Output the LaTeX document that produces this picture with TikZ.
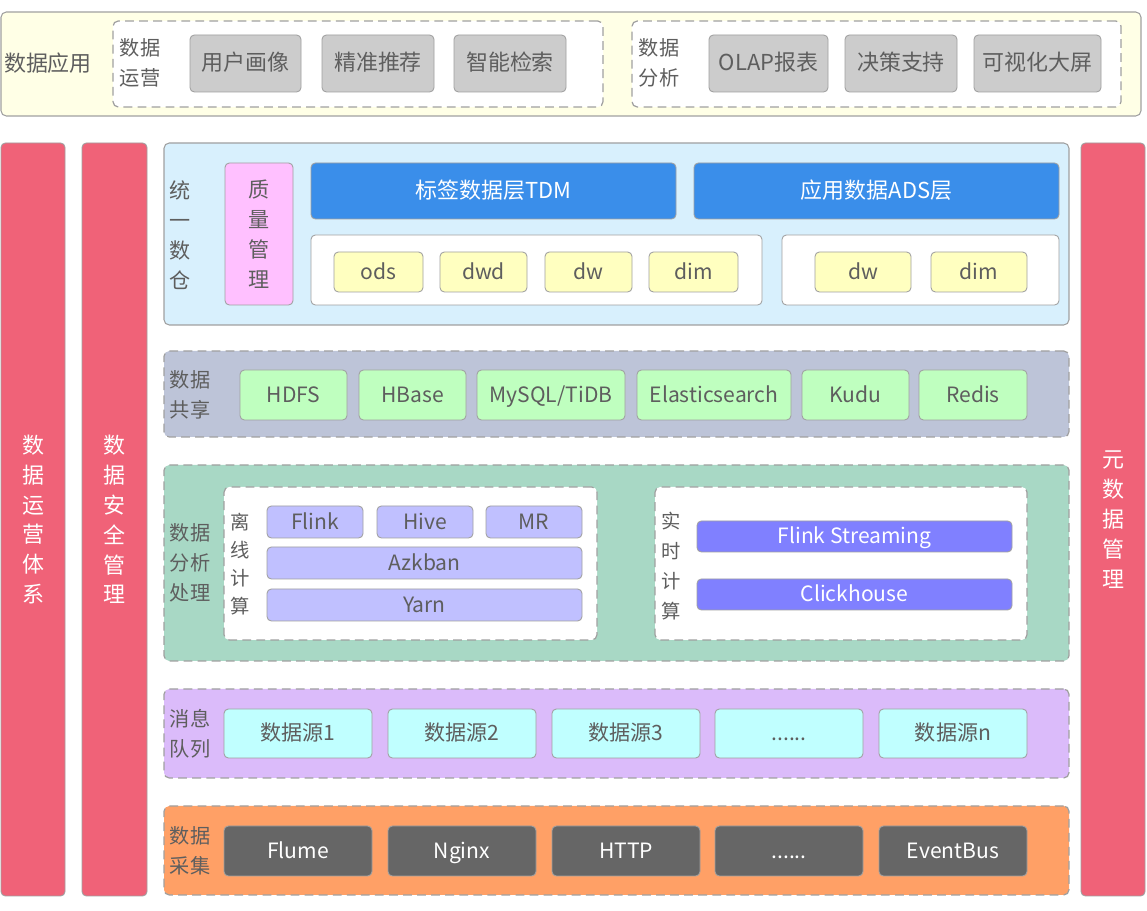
\documentclass[tikz,border=0pt]{standalone}
\usepackage{fontspec}
\setmainfont{Noto Sans CJK SC}
\usetikzlibrary{fit}

\definecolor{appbg}{HTML}{FFFFE6}
\definecolor{cellgray}{HTML}{CCCCCC}
\definecolor{barred}{HTML}{F06278}
\definecolor{dwbg}{HTML}{D8F0FD}
\definecolor{tdmblue}{HTML}{3A8EEA}
\definecolor{qapink}{HTML}{FFC0FF}
\definecolor{layeryel}{HTML}{FFFFC0}
\definecolor{sharebg}{HTML}{BDC4D8}
\definecolor{storegreen}{HTML}{BFFFBF}
\definecolor{calcbg}{HTML}{A8D8C5}
\definecolor{jobpurple}{HTML}{C0C0FF}
\definecolor{streampurple}{HTML}{8080FF}
\definecolor{mqbg}{HTML}{DBBBFA}
\definecolor{srccyan}{HTML}{C0FFFF}
\definecolor{collectbg}{HTML}{FFA066}
\definecolor{toolgray}{HTML}{666666}
\definecolor{txt}{HTML}{5E5E5E}
\definecolor{edge}{HTML}{A0A0A0}

\begin{document}
\begin{tikzpicture}[x=0.02cm,y=-0.02cm,
  wh/.style 2 args={minimum width=#1*0.02cm,minimum height=#2*0.02cm},
  cell/.style={draw=edge,line width=0.5pt,rounded corners=2.5pt,inner sep=0pt,text=txt,
    text height=0.95em,text depth=0.1em,font=\fontsize{12}{15}\selectfont},
  band/.style={draw=edge,line width=0.7pt,dash pattern=on 5pt off 3pt,rounded corners=3pt,inner sep=0pt},
  solidband/.style={draw=edge,line width=0.6pt,rounded corners=3pt,inner sep=0pt},
  tag/.style={text=txt,align=center,inner sep=0pt,font=\fontsize{11.5}{17}\selectfont},
  bar/.style={fill=barred,draw=edge,line width=0.5pt,rounded corners=2.5pt,inner sep=0pt,
    text=white,align=center,font=\fontsize{12.5}{17}\selectfont}]
\useasboundingbox (0,0) rectangle (1147,911);

% application layer
\node[solidband,fill=appbg,fit={(1,12) (1141,116)}] (app) {};
\node[tag,font=\fontsize{12.5}{17}\selectfont] (apptag) at (48,63) {数据应用};
\node[band,fill=white,fit={(113,21) (603,107)}] (ops) {};
\node[tag] (opstag) at (140,63) {数据\\运营};
\node[cell,fill=cellgray,wh={111}{57},font=\fontsize{12.5}{15}\selectfont] (portrait) at (245.5,63.5) {用户画像};
\node[cell,fill=cellgray,wh={112}{57},font=\fontsize{12.5}{15}\selectfont] (recommend) at (378,63.5) {精准推荐};
\node[cell,fill=cellgray,wh={112}{57},font=\fontsize{12.5}{15}\selectfont] (search) at (510,63.5) {智能检索};
\node[band,fill=white,fit={(632,21) (1121,107)}] (ana) {};
\node[tag] (anatag) at (659,63) {数据\\分析};
\node[cell,fill=cellgray,wh={119}{57},font=\fontsize{12.5}{15}\selectfont] (olap) at (768.5,63.5) {OLAP报表};
\node[cell,fill=cellgray,wh={112}{57},font=\fontsize{12.5}{15}\selectfont] (decision) at (901,63.5) {决策支持};
\node[cell,fill=cellgray,wh={127}{57},font=\fontsize{12.5}{15}\selectfont] (screen) at (1037.5,63.5) {可视化大屏};

% side bars
\node[bar,wh={64}{753}] (opsbar) at (33,519.5) {数\\据\\运\\营\\体\\系};
\node[bar,wh={65}{753}] (secbar) at (114.5,519.5) {数\\据\\安\\全\\管\\理};
\node[bar,wh={64}{753}] (metabar) at (1113,519.5) {元\\数\\据\\管\\理};

% unified warehouse
\node[solidband,fill=dwbg,fit={(164,143) (1069,325)}] (dw) {};
\node[tag,font=\fontsize{12}{17}\selectfont] (dwtag) at (180,235) {统\\一\\数\\仓};
\node[cell,fill=qapink,wh={68}{142},align=center,text height=,text depth=,font=\fontsize{12}{17}\selectfont] (quality) at (259,234) {质\\量\\管\\理};
\node[cell,fill=tdmblue,text=white,wh={365}{56},font=\fontsize{12.5}{15}\selectfont] (tdm) at (493.5,191) {标签数据层TDM};
\node[cell,fill=tdmblue,text=white,wh={365}{56},font=\fontsize{12.5}{15}\selectfont] (ads) at (876.5,191) {应用数据ADS层};
\node[cell,fill=white,fit={(311,235) (762,305)}] (tdmset) {};
\node[cell,fill=layeryel,wh={89}{40}] (ods) at (378.5,272) {ods};
\node[cell,fill=layeryel,wh={87}{40}] (dwd) at (483.5,272) {dwd};
\node[cell,fill=layeryel,wh={87}{40}] (dwa) at (588.5,272) {dw};
\node[cell,fill=layeryel,wh={89}{40}] (dima) at (693.5,272) {dim};
\node[cell,fill=white,fit={(782,235) (1059,305)}] (adsset) {};
\node[cell,fill=layeryel,wh={96}{40}] (dwb) at (863,272) {dw};
\node[cell,fill=layeryel,wh={96}{40}] (dimb) at (979,272) {dim};

% data sharing
\node[band,fill=sharebg,fit={(164,351) (1069,437)}] (share) {};
\node[tag] (sharetag) at (190,395) {数据\\共享};
\node[cell,fill=storegreen,wh={107}{50}] (hdfs) at (293.5,395) {HDFS};
\node[cell,fill=storegreen,wh={107}{50}] (hbase) at (412.5,395) {HBase};
\node[cell,fill=storegreen,wh={148}{50}] (mysql) at (551,395) {MySQL/TiDB};
\node[cell,fill=storegreen,wh={154}{50}] (es) at (714,395) {Elasticsearch};
\node[cell,fill=storegreen,wh={107}{50}] (kudu) at (855.5,395) {Kudu};
\node[cell,fill=storegreen,wh={108}{50}] (redis) at (973,395) {Redis};

% analysis and processing
\node[band,fill=calcbg,fit={(164,465) (1069,661)}] (calc) {};
\node[tag] (calctag) at (190,563) {数据\\分析\\处理};
\node[band,fill=white,fit={(224,487) (597,640)}] (offline) {};
\node[tag,font=\fontsize{11}{16}\selectfont] (offtag) at (240,564) {离\\线\\计\\算};
\node[cell,fill=jobpurple,wh={96}{32}] (flink) at (315,522) {Flink};
\node[cell,fill=jobpurple,wh={96}{32}] (hive) at (425,522) {Hive};
\node[cell,fill=jobpurple,wh={96}{32}] (mr) at (534,522) {MR};
\node[cell,fill=jobpurple,wh={315}{32}] (azkban) at (424.5,563) {Azkban};
\node[cell,fill=jobpurple,wh={315}{32}] (yarn) at (424.5,605) {Yarn};
\node[band,fill=white,fit={(655,487) (1027,640)}] (realtime) {};
\node[tag,font=\fontsize{11}{17}\selectfont] (rttag) at (671,566) {实\\时\\计\\算};
\node[cell,fill=streampurple,text=white,wh={315}{31}] (stream) at (854.5,536.5) {Flink Streaming};
\node[cell,fill=streampurple,text=white,wh={315}{31}] (click) at (854.5,594.5) {Clickhouse};

% message queue
\node[band,fill=mqbg,fit={(164,689) (1069,778)}] (mq) {};
\node[tag] (mqtag) at (190,734) {消息\\队列};
\node[cell,fill=srccyan,wh={148}{49}] (srca) at (298,733.5) {数据源1};
\node[cell,fill=srccyan,wh={148}{49}] (srcb) at (462,733.5) {数据源2};
\node[cell,fill=srccyan,wh={148}{49}] (srcc) at (626,733.5) {数据源3};
\node[cell,fill=srccyan,wh={148}{49}] (srcdots) at (789,733.5) {......};
\node[cell,fill=srccyan,wh={148}{49}] (srcn) at (953,733.5) {数据源n};

% collection
\node[band,fill=collectbg,fit={(164,806) (1069,895)}] (collect) {};
\node[tag] (coltag) at (190,851) {数据\\采集};
\node[cell,fill=toolgray,text=white,wh={148}{50}] (flume) at (298,851) {Flume};
\node[cell,fill=toolgray,text=white,wh={148}{50}] (nginx) at (462,851) {Nginx};
\node[cell,fill=toolgray,text=white,wh={148}{50}] (http) at (626,851) {HTTP};
\node[cell,fill=toolgray,text=white,wh={148}{50}] (tooldots) at (789,851) {......};
\node[cell,fill=toolgray,text=white,wh={148}{50}] (eventbus) at (953,851) {EventBus};

\end{tikzpicture}
\end{document}
